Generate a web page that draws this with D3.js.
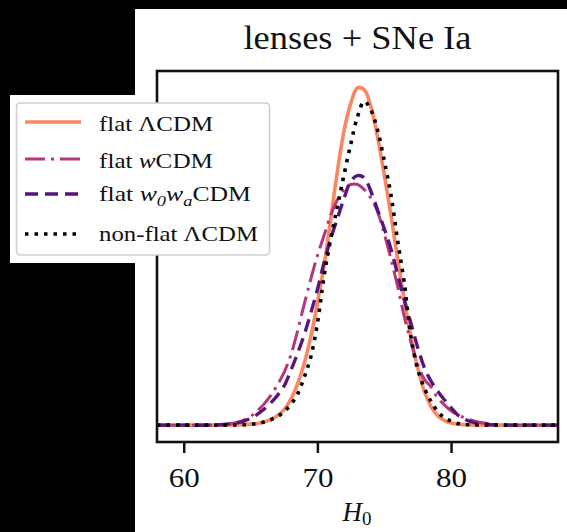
<!DOCTYPE html>
<html>
<head>
<meta charset="utf-8">
<script src="https://cdn.jsdelivr.net/npm/d3@7"></script>
<style>
  html, body { margin: 0; padding: 0; background: #000; }
  svg { display: block; }
  text { font-family: "Liberation Serif", "DejaVu Serif", serif; fill: #111; }
</style>
</head>
<body>
<svg id="chart" width="567" height="532"></svg>
<script>
// H0 grid (km/s/Mpc) on which the marginal posteriors are sampled
const h0Grid = [58, 60, 62, 63, 64, 64.5, 65, 65.5, 66, 66.5, 67, 67.5, 68, 68.5, 69, 69.5,
  70, 70.5, 71, 71.5, 72, 72.5, 73, 73.5, 74, 74.5, 75, 75.5, 76, 76.5, 77, 77.5,
  78, 78.5, 79, 79.5, 80, 80.5, 81, 81.5, 82, 83, 84, 86, 88];

// Posterior densities (peak-normalised to flat ΛCDM)
const flatLCDM = [0, 0, 0, 0, 0.001, 0.0015, 0.003, 0.005, 0.009, 0.016, 0.028, 0.045,
  0.075, 0.12, 0.18, 0.26, 0.36, 0.47, 0.61, 0.75, 0.87, 0.95, 0.995, 0.99, 0.94, 0.85,
  0.74, 0.62, 0.49, 0.37, 0.26, 0.17, 0.10, 0.055, 0.028, 0.014, 0.006, 0.003, 0.0015,
  0.0006, 0.0003, 0, 0, 0, 0];
const flatWCDM = [0, 0, 0, 0.002, 0.008, 0.015, 0.026, 0.042, 0.062, 0.087, 0.118, 0.155,
  0.205, 0.275, 0.355, 0.43, 0.50, 0.56, 0.62, 0.665, 0.695, 0.71, 0.71, 0.695, 0.67, 0.63,
  0.565, 0.49, 0.41, 0.32, 0.245, 0.18, 0.135, 0.113, 0.08, 0.06, 0.042, 0.03, 0.022,
  0.015, 0.009, 0.003, 0, 0, 0];
const flatW0WaCDM = [0, 0, 0, 0.002, 0.007, 0.012, 0.02, 0.032, 0.047, 0.065, 0.087, 0.115,
  0.16, 0.21, 0.265, 0.33, 0.40, 0.48, 0.55, 0.61, 0.67, 0.72, 0.736, 0.73, 0.69, 0.635,
  0.58, 0.52, 0.445, 0.37, 0.30, 0.23, 0.17, 0.13, 0.10, 0.075, 0.052, 0.03, 0.018,
  0.01, 0.005, 0.001, 0, 0, 0];
const nonFlatLCDM = [0, 0, 0, 0, 0.0005, 0.001, 0.002, 0.005, 0.009, 0.016, 0.025, 0.04,
  0.06, 0.09, 0.14, 0.20, 0.30, 0.44, 0.55, 0.645, 0.74, 0.83, 0.91, 0.955, 0.93, 0.87,
  0.78, 0.68, 0.545, 0.42, 0.26, 0.165, 0.11, 0.07, 0.04, 0.022, 0.012, 0.005, 0.002,
  0.001, 0.0005, 0, 0, 0, 0];

const xTickValues = [60, 70, 80];
const titleText = "lenses + SNe Ia";

// Legend labels: each is a list of [text, style] runs
const legendLabels = [
  [["flat ", ""], ["Λ", ""], ["CDM", ""]],
  [["flat ", ""], ["w", "it"], ["CDM", ""]],
  [["flat ", ""], ["w", "it"], ["0", "sub"], ["w", "it"], ["a", "subit"], ["CDM", ""]],
  [["non-flat ", ""], ["Λ", ""], ["CDM", ""]]
];

const seriesStyles = [
  { color: "#fb8761", width: 3.6, dash: null },
  { color: "#b5367a", width: 3.0, dash: "20 6 3 6" },
  { color: "#57157e", width: 3.4, dash: "13 7" },
  { color: "#000000", width: 3.6, dash: "3.5 6" }
];
const seriesValues = [flatLCDM, flatWCDM, flatW0WaCDM, nonFlatLCDM];

const svg = d3.select("#chart");

// canvas: black page, white figure panel, white legend patch
svg.append("rect").attr("width", 567).attr("height", 532).attr("fill", "#000");
svg.append("rect").attr("x", 135).attr("y", 9).attr("width", 432).attr("height", 523).attr("fill", "#fff");
svg.append("rect").attr("x", 10).attr("y", 95).attr("width", 262).attr("height", 168).attr("fill", "#fff");

const plot = { left: 157, right: 558, top: 71, bottom: 442 };

const x = d3.scaleLinear().domain([58, 88]).range([plot.left, plot.right]);
const yMax = d3.max(seriesValues, s => d3.max(s));
const y = d3.scaleLinear().domain([-0.05 * yMax, 1.05 * yMax]).range([plot.bottom, plot.top]);

svg.append("clipPath").attr("id", "plotClip")
  .append("rect")
  .attr("x", plot.left).attr("y", plot.top)
  .attr("width", plot.right - plot.left).attr("height", plot.bottom - plot.top);

const line = d3.line()
  .x(d => x(d[0]))
  .y(d => y(d[1]))
  .curve(d3.curveCatmullRom.alpha(0.5));

const curves = svg.append("g").attr("clip-path", "url(#plotClip)");
seriesValues.forEach((vals, i) => {
  const st = seriesStyles[i];
  curves.append("path")
    .datum(h0Grid.map((h, j) => [h, vals[j]]))
    .attr("d", line)
    .attr("fill", "none")
    .attr("stroke", st.color)
    .attr("stroke-width", st.width)
    .attr("stroke-dasharray", st.dash)
    .attr("stroke-linejoin", "round");
});

// x axis ticks and labels
const xAxis = d3.axisBottom(x).tickValues(xTickValues).tickSize(11).tickPadding(12).tickFormat(d3.format("d"));
const gx = svg.append("g").attr("transform", `translate(0,${plot.bottom})`).call(xAxis);
gx.select(".domain").remove();
gx.selectAll(".tick line").attr("stroke", "#111").attr("stroke-width", 2.5);
gx.selectAll(".tick text")
  .attr("font-size", 28)
  .attr("fill", "#111")
  .attr("dy", null)
  .attr("y", 45)
  .attr("textLength", 31)
  .attr("lengthAdjust", "spacingAndGlyphs");

// frame
svg.append("rect")
  .attr("x", plot.left).attr("y", plot.top)
  .attr("width", plot.right - plot.left).attr("height", plot.bottom - plot.top)
  .attr("fill", "none").attr("stroke", "#111").attr("stroke-width", 2.6);

// title
svg.append("text")
  .attr("x", (plot.left + plot.right) / 2).attr("y", 49)
  .attr("text-anchor", "middle")
  .attr("font-size", 34)
  .attr("textLength", 228).attr("lengthAdjust", "spacingAndGlyphs")
  .text(titleText);

// x axis label: H_0
const xl = svg.append("text")
  .attr("x", 357).attr("y", 521)
  .attr("text-anchor", "middle")
  .attr("font-size", 27);
xl.append("tspan").attr("font-style", "italic").text("H");
xl.append("tspan").attr("font-size", 19).attr("dy", 4).text("0");

// legend
const legend = svg.append("g");
legend.append("rect")
  .attr("x", 16.5).attr("y", 103).attr("width", 253).attr("height", 152).attr("rx", 4)
  .attr("fill", "#fff").attr("stroke", "#cfcfcf").attr("stroke-width", 1.6);

const rowLineY = [122, 159, 194, 234];
const rowBaseY = [131, 168, 201, 241];
const rowWidths = [114, 114, 152, 159];

legendLabels.forEach((runs, i) => {
  const st = seriesStyles[i];
  legend.append("line")
    .attr("x1", 25).attr("x2", 81)
    .attr("y1", rowLineY[i]).attr("y2", rowLineY[i])
    .attr("stroke", st.color).attr("stroke-width", st.width)
    .attr("stroke-dasharray", st.dash);
  const t = legend.append("text")
    .attr("x", 99).attr("y", rowBaseY[i])
    .attr("font-size", 21)
    .attr("textLength", rowWidths[i]).attr("lengthAdjust", "spacingAndGlyphs");
  let shifted = 0;
  runs.forEach(([txt, style]) => {
    const ts = t.append("tspan").text(txt);
    const isSub = style === "sub" || style === "subit";
    if (style === "it" || style === "subit" || style === "sub") ts.attr("font-style", "italic");
    if (isSub) {
      ts.attr("font-size", 15).attr("dy", 5 - shifted);
      shifted = 5;
    } else if (shifted) {
      ts.attr("dy", -shifted);
      shifted = 0;
    }
  });
});
</script>
</body>
</html>
